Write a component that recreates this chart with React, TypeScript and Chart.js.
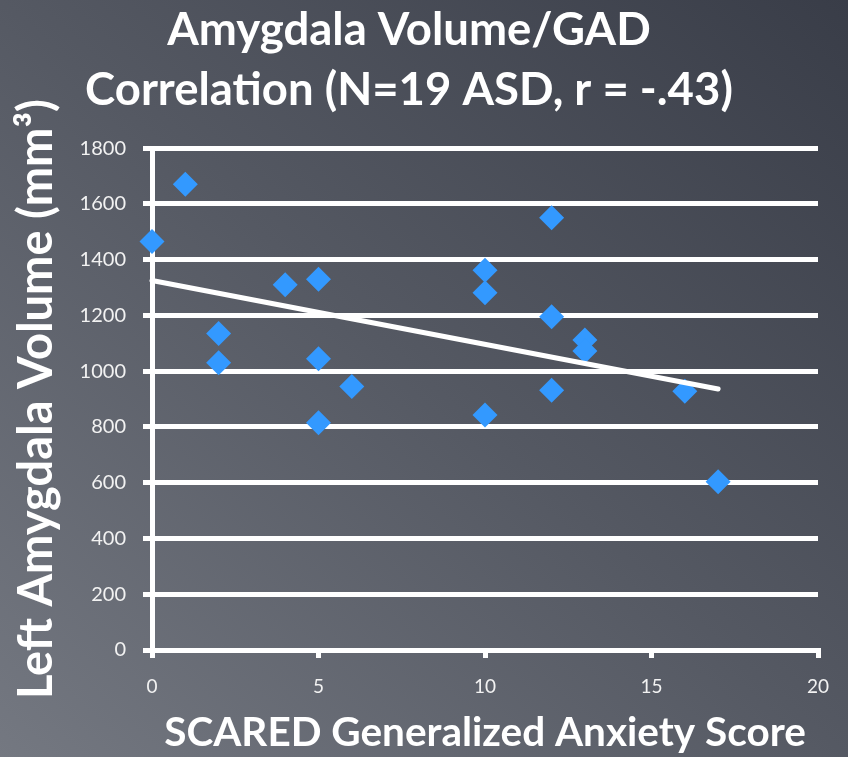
import React, { useEffect, useRef } from "react";
import { Chart, registerables } from "chart.js";

Chart.register(...registerables);

const titleLines = ["Amygdala Volume/GAD", "Correlation (N=19 ASD, r = -.43)"];
const xTitle = "SCARED Generalized Anxiety Score";
const yTitle = "Left Amygdala Volume (mm³)";

const gadScores = [0, 1, 2, 2, 4, 5, 5, 5, 6, 10, 10, 10, 12, 12, 12, 13, 13, 16, 17];
const volumes = [1465, 1670, 1135, 1030, 1310, 1330, 1045, 815, 945, 1362, 1281, 843, 1550, 1195, 932, 1112, 1072, 928, 603];

const trendX = [0, 17];
const trendY = [1325, 936];

const xMin = 0, xMax = 20, xStep = 5;
const yMin = 0, yMax = 1800, yStep = 200;

export default function App() {
  const ref = useRef<HTMLCanvasElement>(null);
  useEffect(() => {
    if (!ref.current) return;
    const white = "#ffffff";
    const chart = new Chart(ref.current, {
      type: "scatter",
      data: {
        datasets: [
          {
            type: "line",
            label: "Trend",
            data: trendX.map((x, i) => ({ x, y: trendY[i] })),
            borderColor: white,
            borderWidth: 5,
            pointRadius: 0,
            borderCapStyle: "round",
            fill: false,
            clip: false,
          },
          {
            label: "ASD",
            data: gadScores.map((x, i) => ({ x, y: volumes[i] })),
            pointStyle: "rectRot",
            pointRadius: 12.5,
            backgroundColor: "#3399ff",
            borderColor: "#3399ff",
            borderWidth: 0,
            clip: false,
          },
        ],
      },
      options: {
        responsive: false,
        animation: false,
        layout: { padding: { left: 0, right: 30, top: 0, bottom: 0 } },
        plugins: {
          legend: { display: false },
          tooltip: { enabled: false },
          title: {
            display: true,
            text: titleLines,
            color: white,
            font: { family: "Lato", size: 45.5, weight: "bold", lineHeight: 1.32 },
            padding: { top: 0, bottom: 28 },
          },
        },
        scales: {
          x: {
            type: "linear",
            min: xMin,
            max: xMax,
            afterFit: (s: any) => { s.height = 107; },
            ticks: { stepSize: xStep, color: "#f2f2f2", font: { family: "Lato", size: 19 }, padding: 17 },
            grid: { drawOnChartArea: false, drawTicks: true, tickLength: 8, color: white, lineWidth: 5 },
            border: { display: true, color: white, width: 5 },
            title: {
              display: true,
              text: xTitle,
              color: white,
              font: { family: "Lato", size: 40.5, weight: "bold", lineHeight: 1.2 },
              padding: { top: 0, bottom: 0 },
            },
          },
          y: {
            type: "linear",
            min: yMin,
            max: yMax,
            afterFit: (s: any) => { s.width = 152; },
            ticks: {
              stepSize: yStep,
              color: "#f2f2f2",
              font: { family: "Lato", size: 20 },
              padding: 17,
              callback: (v: any) => String(v),
            },
            grid: { drawTicks: true, tickLength: 9, color: white, lineWidth: 5 },
            border: { display: true, color: white, width: 5 },
            title: {
              display: true,
              text: yTitle,
              color: white,
              font: { family: "Lato", size: 47, weight: "bold", lineHeight: 1.2 },
              padding: { top: 9, bottom: 0 },
            },
          },
        },
      },
    } as any);
    return () => chart.destroy();
  }, []);
  return (
    <div
      style={{
        position: "absolute",
        left: 0,
        top: 0,
        width: 848,
        height: 757,
        background: "linear-gradient(to bottom left, #393d48 0%, #555963 50%, #747881 100%)",
      }}
    >
      <canvas ref={ref} width={848} height={757} style={{ display: "block" }} />
    </div>
  );
}
